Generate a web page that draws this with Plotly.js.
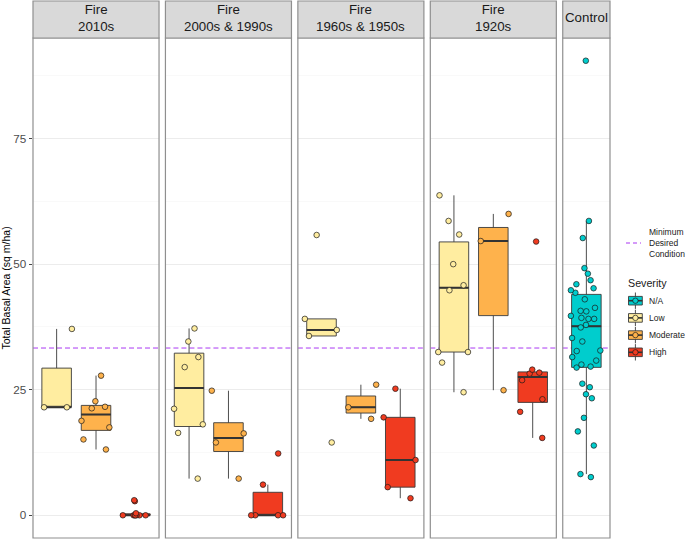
<!DOCTYPE html>
<html><head><meta charset="utf-8">
<script src="https://cdn.plot.ly/plotly-3.0.1.min.js"></script>
<style>html,body{margin:0;padding:0;background:#fff}#chart{width:685px;height:539px}</style>
</head><body><div id="chart"></div>
<script>
// ---------------- data ----------------
const panelLabels = ['Fire<br>2010s', 'Fire<br>2000s & 1990s', 'Fire<br>1960s & 1950s', 'Fire<br>1920s', 'Control'];
const severities = ['N/A', 'Low', 'Moderate', 'High'];
const severityColors = ['#00CDCD', '#FFEDA0', '#FEB24C', '#F03B20'];
const minimumDesiredCondition = 33.3;
const yTicks = [0, 25, 50, 75];
const yTitle = 'Total Basal Area (sq m/ha)';
const lineLegendLabel = 'Minimum<br>Desired<br>Condition';
const legendTitle = 'Severity';

const fire2010sLow      = [37.1, 21.5, 21.5];
const fire2010sModerate = [27.8, 22.7, 21.6, 21.3, 18.8, 17.5, 15.1, 13.1];
const fire2010sHigh     = [0, 0, 0, 0, 0, 0, 0, 0.4, 2.8, 3.0];

const fire2000sLow      = [37.2, 34.6, 31.5, 29.5, 21.2, 18.1, 16.4, 7.3];
const fire2000sModerate = [24.8, 16.3, 14.5, 7.3];
const fire2000sHigh     = [12.3, 6.1, 0, 0, 0, 0];

const fire1960sLow      = [55.8, 39.1, 36.9, 35.7, 14.5];
const fire1960sModerate = [26.0, 21.5, 19.2];
const fire1960sHigh     = [25.2, 19.5, 11.0, 5.6, 3.4];

const fire1920sLow      = [63.7, 58.6, 55.9, 50.0, 45.8, 44.8, 32.5, 32.5, 30.4, 24.5];
const fire1920sModerate = [60.0, 54.6, 24.9];
const fire1920sHigh     = [54.5, 29.0, 28.4, 28.2, 26.9, 23.1, 20.6, 15.4];

const controlNA = [90.5, 58.6, 55.2, 49.2, 48.1, 46.8, 46.0, 45.2, 44.8, 44.3, 43.0, 41.3,
  40.6, 40.7, 39.7, 39.3, 39.1, 39.1, 37.9, 37.4, 35.3, 34.6, 32.7, 32.8, 31.5, 30.8, 30.0,
  29.6, 29.4, 26.2, 25.5, 24.1, 23.3, 19.4, 16.7, 13.9, 7.6, 8.2];

const panelGroups = [
  [['Low', fire2010sLow], ['Moderate', fire2010sModerate], ['High', fire2010sHigh]],
  [['Low', fire2000sLow], ['Moderate', fire2000sModerate], ['High', fire2000sHigh]],
  [['Low', fire1960sLow], ['Moderate', fire1960sModerate], ['High', fire1960sHigh]],
  [['Low', fire1920sLow], ['Moderate', fire1920sModerate], ['High', fire1920sHigh]],
  [['N/A', controlNA]]
];

// ---------------- helpers ----------------
const W = 685, H = 539, ML = 33, MR = 75, MT = 38, MB = 1;
const PW = W - ML - MR, PH = H - MT - MB;
const PX = p => (p - ML) / PW;
const PY = p => (H - MB - p) / PH;
const colorOf = s => severityColors[severities.indexOf(s)];

function quantile(s, p) {
  const h = (s.length - 1) * p, lo = Math.floor(h), hi = Math.ceil(h);
  return s[lo] + (h - lo) * (s[hi] - s[lo]);
}
function boxStats(vals) {
  const s = [...vals].sort((a, b) => a - b);
  const q1 = quantile(s, 0.25), med = quantile(s, 0.5), q3 = quantile(s, 0.75);
  const iqr = q3 - q1;
  const lo = s.find(v => v >= q1 - 1.5 * iqr);
  const hi = [...s].reverse().find(v => v <= q3 + 1.5 * iqr);
  return { q1, med, q3, lo, hi };
}

// panel widths: free space, 3 categories vs 1 category
const gap = 6.4;
const unitW = (PW - 4 * gap) / (4 + 1.2 / 3.2);
const domains = [];
let cur = 0;
panelGroups.forEach(g => {
  const w = g.length === 3 ? unitW : unitW * 1.2 / 3.2;
  domains.push([cur / PW, Math.min(1, (cur + w) / PW)]);
  cur += w + gap;
});

const allVals = panelGroups.flat().map(g => g[1]).flat();
const yMin = Math.min(...allVals), yMax = Math.max(...allVals);
const ySpan = yMax - yMin;
const yRange = [yMin - 0.05 * ySpan, yMax + 0.05 * ySpan];

const BOXW = 0.75, JITTERW = 1.0;
const traces = [];
const layout = {
  width: W, height: H,
  margin: { l: ML, r: MR, t: MT, b: MB, pad: 0 },
  paper_bgcolor: '#fff', plot_bgcolor: '#fff',
  font: { family: 'Liberation Sans, Arial, sans-serif', color: '#1a1a1a' },
  showlegend: false,
  boxmode: 'overlay',
  yaxis: {
    range: yRange, domain: [0, 1], anchor: 'x',
    tickmode: 'array', tickvals: yTicks,
    ticks: 'outside', ticklen: 3.5, tickwidth: 0.9, tickcolor: '#333333',
    tickfont: { size: 11.7, color: '#4d4d4d' },
    showgrid: true, gridcolor: '#e8e8e8', gridwidth: 0.8,
    minor: { tick0: 0, dtick: 12.5, showgrid: true, gridcolor: '#f3f3f3', gridwidth: 0.5, ticks: '' },
    zeroline: false, showline: false, fixedrange: true
  },
  shapes: [], annotations: []
};

panelGroups.forEach((groups, k) => {
  const ax = k === 0 ? 'x' : 'x' + (k + 1);
  const axName = k === 0 ? 'xaxis' : 'xaxis' + (k + 1);
  layout[axName] = {
    domain: domains[k], range: [0.4, groups.length + 0.6], type: 'linear', anchor: 'y',
    showticklabels: false, ticks: '', showgrid: false, zeroline: false, showline: false, fixedrange: true
  };
  layout.shapes.push({ type: 'line', xref: ax + ' domain', yref: 'y', x0: 0, x1: 1,
    y0: minimumDesiredCondition, y1: minimumDesiredCondition, layer: 'below',
    line: { color: '#A020F0', width: 0.9, dash: '5px,3px' } });
  layout.shapes.push({ type: 'rect', xref: ax + ' domain', yref: 'paper', x0: 0, x1: 1, y0: 0, y1: 1,
    layer: 'above', line: { color: '#8f8f8f', width: 1.2 }, fillcolor: 'rgba(0,0,0,0)' });
  layout.shapes.push({ type: 'rect', xref: ax + ' domain', yref: 'paper', x0: 0, x1: 1, y0: 1, y1: PY(1),
    layer: 'above', line: { color: '#8f8f8f', width: 1.2 }, fillcolor: '#d9d9d9' });
  layout.annotations.push({ xref: ax + ' domain', yref: 'paper', x: 0.5, y: PY(18),
    xanchor: 'center', yanchor: 'middle', showarrow: false, text: panelLabels[k],
    font: { size: 13.3, color: '#1a1a1a' } });

  groups.forEach(([sev, vals], i) => {
    const pos = i + 1, col = colorOf(sev), st = boxStats(vals);
    traces.push({ type: 'box', xaxis: ax, yaxis: 'y', x: [pos],
      q1: [st.q1], median: [st.med], q3: [st.q3], lowerfence: [st.lo], upperfence: [st.hi],
      width: BOXW, whiskerwidth: 0, fillcolor: col, boxpoints: false,
      line: { color: '#3a3a3a', width: 0.9 }, hoverinfo: 'skip', showlegend: false });
    traces.push({ type: 'box', xaxis: ax, yaxis: 'y', x: [pos],
      q1: [st.med], median: [st.med], q3: [st.med], lowerfence: [st.med], upperfence: [st.med],
      width: BOXW, whiskerwidth: 0, fillcolor: 'rgba(0,0,0,0)', boxpoints: false,
      line: { color: '#333333', width: 2 }, hoverinfo: 'skip', showlegend: false });
    traces.push({ type: 'box', xaxis: ax, yaxis: 'y', x0: pos, y: vals,
      width: JITTERW, whiskerwidth: 0, boxpoints: 'all', jitter: 1, pointpos: 0,
      fillcolor: 'rgba(0,0,0,0)', line: { color: 'rgba(0,0,0,0)', width: 0 },
      marker: { color: col, size: 5.6, line: { color: '#1a1a1a', width: 0.7 } },
      hoverinfo: 'y', showlegend: false });
  });
});

layout.annotations.push({ xref: 'paper', yref: 'paper', x: PX(5.5), y: 0.5, textangle: -90,
  xanchor: 'center', yanchor: 'middle', showarrow: false, text: yTitle,
  font: { size: 10.5, color: '#000' } });

layout.shapes.push({ type: 'line', xref: 'paper', yref: 'paper', x0: PX(626), x1: PX(641),
  y0: PY(243), y1: PY(243), line: { color: '#A020F0', width: 0.9, dash: '4px,3px' } });
layout.annotations.push({ xref: 'paper', yref: 'paper', x: PX(647), y: PY(243), xanchor: 'left',
  yanchor: 'middle', align: 'left', showarrow: false, text: lineLegendLabel,
  font: { size: 8.5, color: '#1a1a1a' } });
layout.annotations.push({ xref: 'paper', yref: 'paper', x: PX(626), y: PY(283), xanchor: 'left',
  yanchor: 'middle', showarrow: false, text: legendTitle, font: { size: 10.7, color: '#1a1a1a' } });
severities.forEach((s, i) => {
  const cy = 300.7 + i * 17.2, cx = 635.4, col = severityColors[i];
  const P = { xref: 'paper', yref: 'paper' };
  layout.shapes.push({ ...P, type: 'line', x0: PX(cx), x1: PX(cx), y0: PY(cy - 8.2), y1: PY(cy + 8.2),
    line: { color: '#3a3a3a', width: 0.9 } });
  layout.shapes.push({ ...P, type: 'rect', x0: PX(cx - 6.9), x1: PX(cx + 6.9), y0: PY(cy - 4.3), y1: PY(cy + 4.3),
    fillcolor: col, line: { color: '#3a3a3a', width: 0.9 } });
  layout.shapes.push({ ...P, type: 'line', x0: PX(cx - 6.9), x1: PX(cx + 6.9), y0: PY(cy), y1: PY(cy),
    line: { color: '#333', width: 1.6 } });
  layout.shapes.push({ ...P, type: 'circle', x0: PX(cx - 2.7), x1: PX(cx + 2.7), y0: PY(cy - 2.7), y1: PY(cy + 2.7),
    fillcolor: col, line: { color: '#1a1a1a', width: 0.7 } });
  layout.annotations.push({ ...P, x: PX(647.5), y: PY(cy), xanchor: 'left', yanchor: 'middle',
    showarrow: false, text: s, font: { size: 8.5, color: '#1a1a1a' } });
});

Plotly.newPlot('chart', traces, layout, { staticPlot: true, displayModeBar: false });
</script>
</body></html>
